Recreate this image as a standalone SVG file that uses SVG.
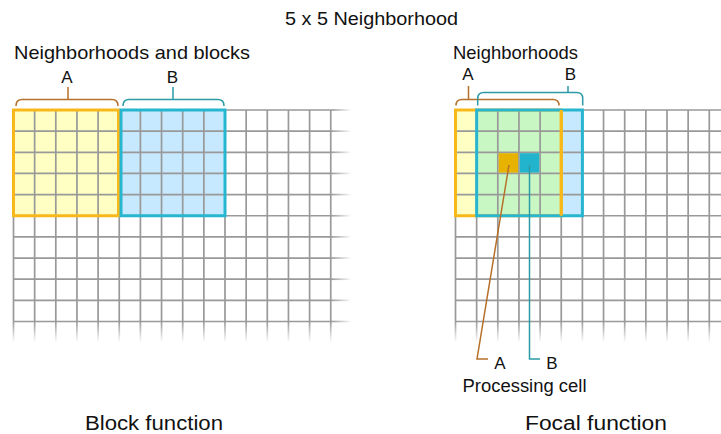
<svg xmlns="http://www.w3.org/2000/svg" width="721" height="434" viewBox="0 0 721 434">
<style>
text{font-family:"Liberation Sans",Arial,sans-serif;fill:#111}
.grid{stroke:#999;stroke-width:1.7;fill:none}
.brA{stroke:#b5702a;stroke-width:1.5;fill:none}
.brB{stroke:#2a9aa6;stroke-width:1.5;fill:none}
.boxY{stroke:#f9b81a;stroke-width:3;fill:none}
.boxB{stroke:#27b6d0;stroke-width:3;fill:none}
.lbl{font-size:17px;text-anchor:middle}
.hd{font-size:18.5px}
.ft{font-size:19.5px}
</style>
<defs>
<linearGradient id="fv" x1="0" y1="0" x2="0" y2="1">
<stop offset="0" stop-color="#999"/><stop offset="1" stop-color="#999" stop-opacity="0"/>
</linearGradient>
<linearGradient id="fh" x1="0" y1="0" x2="1" y2="0">
<stop offset="0" stop-color="#999"/><stop offset="1" stop-color="#999" stop-opacity="0"/>
</linearGradient>
</defs>

<text id="title" x="285" y="25" font-size="17.5" textLength="173" lengthAdjust="spacingAndGlyphs">5 x 5 Neighborhood</text>

<!-- Left panel: block function -->
<g id="block-grid">
<rect x="13.5" y="110" width="105.75" height="105.75" fill="#ffffc4"/>
<rect x="119.25" y="110" width="105.75" height="105.75" fill="#c6e9ff"/>
<path class="grid" d="M13.5,110V321.5M34.65,110V321.5M55.8,110V321.5M76.95,110V321.5M98.1,110V321.5M119.25,110V321.5M140.4,110V321.5M161.55,110V321.5M182.7,110V321.5M203.85,110V321.5M225,110V321.5M246.15,110V321.5M267.3,110V321.5M288.45,110V321.5M309.6,110V321.5M330.75,110V321.5
M13.5,110H330.75M13.5,131.15H330.75M13.5,152.3H330.75M13.5,173.45H330.75M13.5,194.6H330.75M13.5,215.75H330.75M13.5,236.9H330.75M13.5,258.05H330.75M13.5,279.2H330.75M13.5,300.35H330.75M13.5,321.5H330.75"/>
<g fill="url(#fv)">
<rect x="12.65" y="321.5" width="1.7" height="21"/><rect x="33.8" y="321.5" width="1.7" height="21"/><rect x="54.95" y="321.5" width="1.7" height="21"/><rect x="76.1" y="321.5" width="1.7" height="21"/><rect x="97.25" y="321.5" width="1.7" height="21"/><rect x="118.4" y="321.5" width="1.7" height="21"/><rect x="139.55" y="321.5" width="1.7" height="21"/><rect x="160.7" y="321.5" width="1.7" height="21"/><rect x="181.85" y="321.5" width="1.7" height="21"/><rect x="203" y="321.5" width="1.7" height="21"/><rect x="224.15" y="321.5" width="1.7" height="21"/><rect x="245.3" y="321.5" width="1.7" height="21"/><rect x="266.45" y="321.5" width="1.7" height="21"/><rect x="287.6" y="321.5" width="1.7" height="21"/><rect x="308.75" y="321.5" width="1.7" height="21"/><rect x="329.9" y="321.5" width="1.7" height="21"/>
</g>
<g fill="url(#fh)">
<rect x="330.75" y="109.15" width="21" height="1.7"/><rect x="330.75" y="130.3" width="21" height="1.7"/><rect x="330.75" y="151.45" width="21" height="1.7"/><rect x="330.75" y="172.6" width="21" height="1.7"/><rect x="330.75" y="193.75" width="21" height="1.7"/><rect x="330.75" y="214.9" width="21" height="1.7"/><rect x="330.75" y="236.05" width="21" height="1.7"/><rect x="330.75" y="257.2" width="21" height="1.7"/><rect x="330.75" y="278.35" width="21" height="1.7"/><rect x="330.75" y="299.5" width="21" height="1.7"/><rect x="330.75" y="320.65" width="21" height="1.7"/>
</g>
</g>
<g id="block-A">
<rect class="boxY" x="13.5" y="110" width="105" height="105.75"/>
</g>
<g id="block-B">
<rect class="boxB" x="121" y="110" width="104" height="105.75"/>
</g>

<!-- Right panel: focal function -->
<g id="focal-grid">
<rect x="455.5" y="110" width="21.15" height="105.75" fill="#ffffc4"/>
<rect x="476.65" y="110" width="84.6" height="105.75" fill="#c9f7c4"/>
<rect x="561.25" y="110" width="21.15" height="105.75" fill="#c6e9ff"/>
<path class="grid" d="M455.5,110V321.5M476.65,110V321.5M497.8,110V321.5M518.95,110V321.5M540.1,110V321.5M561.25,110V321.5M582.4,110V321.5M603.55,110V321.5M624.7,110V321.5M645.85,110V321.5M667,110V321.5M688.15,110V321.5M709.3,110V321.5
M455.5,110H721M455.5,131.15H721M455.5,152.3H721M455.5,173.45H721M455.5,194.6H721M455.5,215.75H721M455.5,236.9H721M455.5,258.05H721M455.5,279.2H721M455.5,300.35H721M455.5,321.5H721"/>
<g fill="url(#fv)">
<rect x="454.65" y="321.5" width="1.7" height="21"/><rect x="475.8" y="321.5" width="1.7" height="21"/><rect x="496.95" y="321.5" width="1.7" height="21"/><rect x="518.1" y="321.5" width="1.7" height="21"/><rect x="539.25" y="321.5" width="1.7" height="21"/><rect x="560.4" y="321.5" width="1.7" height="21"/><rect x="581.55" y="321.5" width="1.7" height="21"/><rect x="602.7" y="321.5" width="1.7" height="21"/><rect x="623.85" y="321.5" width="1.7" height="21"/><rect x="645" y="321.5" width="1.7" height="21"/><rect x="666.15" y="321.5" width="1.7" height="21"/><rect x="687.3" y="321.5" width="1.7" height="21"/><rect x="708.45" y="321.5" width="1.7" height="21"/>
</g>
</g>
<g id="focal-A">
<rect class="boxY" x="455.5" y="110" width="105.75" height="105.75"/>
</g>
<g id="focal-B">
<rect class="boxB" x="476.65" y="110" width="105.75" height="105.75"/>
<line x1="561.25" y1="110" x2="561.25" y2="215.75" stroke="#f9b81a" stroke-width="3"/>
</g>
<g id="cell-A"><rect x="498.7" y="153.2" width="19.35" height="19.35" fill="#e8b200"/></g>
<g id="cell-B"><rect x="519.85" y="153.2" width="19.35" height="19.35" fill="#22b4cc"/></g>

<!-- connectors: brackets and leaders -->
<g id="connectors">
<path class="brA" d="M16,106q0,-6.5 6,-6.5H112q6,0 6,6.5M68,99.5V87"/>
<path class="brB" d="M123,106q0,-6.5 6,-6.5H218q6,0 6,6.5M173,99.5V87"/>
<path class="brA" d="M456,105.5q0,-6 6,-6H553q6,0 6,6M468.5,99.5V86"/>
<path class="brB" d="M477.7,105.5V98.5q0,-6 6,-6H576.7q6,0 6,6V105.5M568,92.5V86"/>
<path class="brA" d="M509,165L477,359H488"/>
<path class="brB" d="M529.5,165V359H540"/>
</g>

<g id="labels">
<text class="hd" x="14" y="59" textLength="236" lengthAdjust="spacingAndGlyphs">Neighborhoods and blocks</text>
<text class="lbl" x="67" y="83">A</text>
<text class="lbl" x="172.5" y="83">B</text>
<text class="hd" x="453" y="58.5" textLength="125" lengthAdjust="spacingAndGlyphs">Neighborhoods</text>
<text class="lbl" x="468" y="80">A</text>
<text class="lbl" x="570.5" y="80">B</text>
<text class="lbl" x="500" y="368.5">A</text>
<text class="lbl" x="552" y="368.5">B</text>
<text x="462.5" y="391.5" font-size="18" textLength="124" lengthAdjust="spacingAndGlyphs">Processing cell</text>
<text class="ft" x="85" y="430" textLength="138" lengthAdjust="spacingAndGlyphs">Block function</text>
<text class="ft" x="525" y="430" textLength="142" lengthAdjust="spacingAndGlyphs">Focal function</text>
</g>
</svg>
